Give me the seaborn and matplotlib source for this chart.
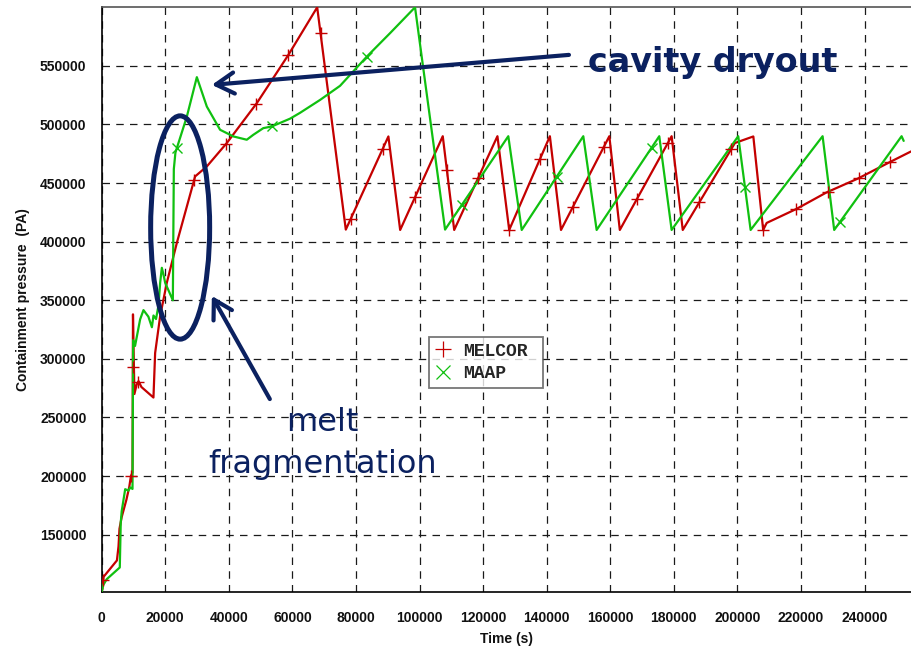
import numpy as np
import pandas as pd
import matplotlib
matplotlib.use("Agg")
import matplotlib.pyplot as plt
import seaborn as sns
from matplotlib.lines import Line2D
from matplotlib.patches import Ellipse

# Containment pressure histories (time in s, pressure in Pa)
melcor_time = [0, 250, 600, 4800, 5300, 5600, 6300, 7000, 7800, 8700, 9200, 9700,
               9850, 10300, 11000, 11600, 12500, 16290, 16820, 18400, 20500, 23650,
               29400, 33080, 39370, 48800, 58740, 67800, 76800, 90200, 93900, 107300,
               110900, 124500, 128200, 141000, 144500, 159700, 163000, 179300, 182800,
               199200, 205000, 208100, 209200, 218600, 228000, 238000, 248000, 254600]
melcor_pressure = [101325, 104000, 114000, 128000, 140000, 155000, 165000, 172000,
                   180000, 191000, 200000, 203000, 338000, 270000, 278000, 281000,
                   276000, 267000, 305000, 336500, 365000, 399000, 455700, 464200,
                   484200, 518200, 559400, 600000, 410300, 489800, 410000, 490000,
                   410000, 490000, 410000, 490000, 410000, 490000, 410000, 490000,
                   410000, 484200, 489800, 410000, 416000, 428000, 442000, 454000,
                   468000, 477000]

maap_time = [0, 500, 1600, 5700, 6000, 6300, 7400, 8400, 9000, 9700, 9900, 10500,
             12100, 13150, 14700, 15800, 16300, 17100, 17900, 18400, 18930, 19440,
             19970, 22390, 22700, 23200, 26800, 29940, 33080, 37250, 41450, 45650,
             47700, 50850, 53500, 59280, 62430, 68720, 74990, 83400, 90740, 98580,
             108030, 127920, 132140, 151510, 155710, 175410, 179300, 200250, 204150,
             226790, 230440, 251640, 252300]
maap_pressure = [101325, 107000, 112000, 122000, 160000, 170000, 188800, 187500,
                 190300, 189000, 316000, 311000, 333700, 341600, 336000, 327000,
                 337000, 334000, 346000, 365000, 377700, 372000, 365000, 350000,
                 462000, 476000, 506800, 540400, 515300, 495500, 489800, 487000,
                 491200, 496900, 498300, 505000, 510000, 521000, 533000, 557900,
                 578000, 600000, 410300, 490000, 410000, 490000, 410000, 490000,
                 410000, 490000, 410000, 490000, 410000, 490000, 486000]

# Times at which the plot symbols sit on each curve
melcor_marker_time = [500, 9200, 9800, 11500, 29100, 39200, 48600, 58700, 68850,
                      78300, 88400, 98600, 108600, 118500, 128250, 137900, 148200,
                      158000, 168300, 178200, 188000, 198000, 208100, 218400, 228400,
                      238200, 248000]
maap_marker_time = [23650, 53500, 83400, 113260, 143140, 173000, 202360, 232230]

series_names = ["MELCOR", "MAAP"]
x_ticks = list(range(0, 240001, 20000))
y_ticks = list(range(150000, 550001, 50000))

RED = "#c40000"
GREEN = "#10c010"
NAVY = "#0b2160"

sns.set_theme(style="white")
label_font = ["Liberation Sans", "DejaVu Sans"]

fig = plt.figure(figsize=(9.11, 6.53), dpi=100)
ax = fig.add_axes([0.1116, 0.0939, 0.8884, 0.8949])

ax.set_xlim(0, 254600)
ax.set_ylim(101325, 600000)

ax.grid(True, color="#1a1a1a", linestyle=(0, (6, 5)), linewidth=0.9)
ax.set_axisbelow(True)

df_melcor = pd.DataFrame({"t": melcor_time, "p": melcor_pressure})
df_maap = pd.DataFrame({"t": maap_time, "p": maap_pressure})

sns.lineplot(data=df_melcor, x="t", y="p", color=RED, linewidth=1.6, sort=False,
             estimator=None, ax=ax, legend=False, zorder=3)
sns.lineplot(data=df_maap, x="t", y="p", color=GREEN, linewidth=1.6, sort=False,
             estimator=None, ax=ax, legend=False, zorder=4)

mm = np.array(melcor_marker_time)
ax.plot(mm, np.interp(mm, melcor_time, melcor_pressure), ls="none", marker="+",
        ms=8, mew=1.0, color=RED, zorder=5)
gm = np.array(maap_marker_time)
ax.plot(gm, np.interp(gm, maap_time, maap_pressure), ls="none", marker="x",
        ms=7, mew=1.0, color=GREEN, zorder=5)

# Axes frame and ticks
for side in ["left", "bottom"]:
    ax.spines[side].set_color("black")
    ax.spines[side].set_linewidth(1.2)
ax.spines["top"].set_color("#555555")
ax.spines["top"].set_linewidth(1.2)
ax.spines["right"].set_visible(False)

ax.set_xticks(x_ticks)
ax.set_yticks(y_ticks)
ax.set_xticklabels([str(v) for v in x_ticks])
ax.set_yticklabels([str(v) for v in y_ticks])
ax.tick_params(axis="x", direction="inout", length=8, width=1, color="black", pad=10)
ax.tick_params(axis="y", direction="out", length=7, width=1, color="black", pad=4)
for lab in ax.get_xticklabels() + ax.get_yticklabels():
    lab.set_family(label_font)
    lab.set_fontweight("bold")
    lab.set_fontsize(10)
    lab.set_color("#111111")

ax.set_xlabel("Time (s)", family=label_font, fontweight="bold", fontsize=10,
              color="#111111", labelpad=5)
ax.set_ylabel("Containment pressure  (PA)", family=label_font, fontweight="bold",
              fontsize=10, color="#111111", labelpad=7)

# Legend
handles = [
    Line2D([], [], ls="none", marker="+", color=RED, ms=11, mew=0.9),
    Line2D([], [], ls="none", marker="x", color=GREEN, ms=10, mew=0.9),
]
leg = ax.legend(handles, series_names, loc="upper left",
                bbox_to_anchor=(0.4044, 0.3525, 0.1409, 0.0828), mode="expand",
                borderaxespad=0, frameon=True, fancybox=False,
                handlelength=0.99, handletextpad=0.61, borderpad=0.3,
                labelspacing=0.3,
                prop={"family": ["Liberation Mono", "DejaVu Sans Mono"],
                      "weight": "bold", "size": 13})
leg.get_frame().set_edgecolor("#555555")
leg.get_frame().set_linewidth(1.3)
leg.set_zorder(6)

# Callouts
ax.add_patch(Ellipse((24690, 412100), width=18560, height=190550, fill=False,
                     edgecolor=NAVY, linewidth=3.6, zorder=7))
arrow = dict(arrowstyle="->,head_length=0.65,head_width=0.38", color=NAVY,
             lw=3.0, mutation_scale=20, shrinkA=0, shrinkB=0)
ax.annotate("", xy=(34660, 533800), xytext=(147000, 559400), arrowprops=arrow,
            zorder=7)
ax.annotate("", xy=(34660, 353700), xytext=(52900, 265700), arrowprops=arrow,
            zorder=7)
ax.text(153000, 545100, "cavity dryout", color=NAVY, fontsize=24,
        fontweight="bold", family="DejaVu Sans", ha="left", va="baseline",
        zorder=7)
ax.text(69500, 238500, "melt", color=NAVY, fontsize=23, family="DejaVu Sans",
        ha="center", va="baseline", zorder=7)
ax.text(69500, 202470, "fragmentation", color=NAVY, fontsize=23,
        family="DejaVu Sans", ha="center", va="baseline", zorder=7)

fig.savefig("out.png", dpi=100)
